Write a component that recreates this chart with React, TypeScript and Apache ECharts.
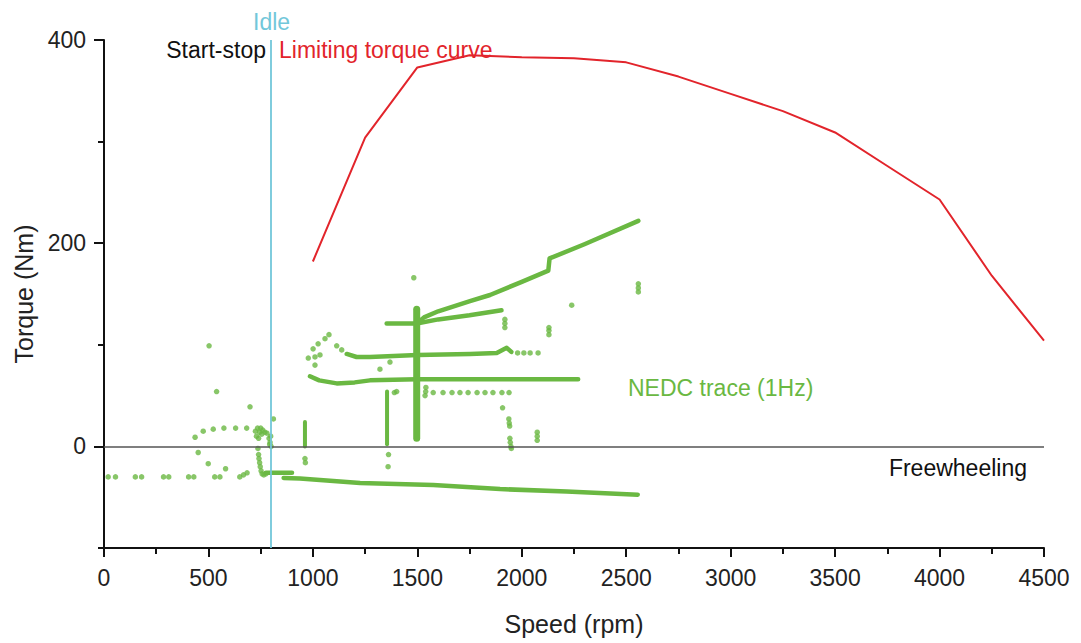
import React, { useEffect, useRef } from "react";
import * as echarts from "echarts";

// Limiting torque curve
const limitSpeed = [1000, 1250, 1500, 1750, 2000, 2250, 2500, 2750, 3000, 3250, 3500, 3750, 4000, 4250, 4500];
const limitTorque = [182, 304, 373, 385, 383, 382, 378, 364, 347, 330, 309, 276, 243, 168, 104];

// Axis tick labels
const yMajorTicks = [0, 200, 400];

// NEDC trace (1Hz) — sparse points
const lowDashDots = [[20, -30], [55, -30], [150, -30], [180, -30], [285, -30], [310, -30], [405, -30], [430, -30], [530, -30], [555, -30], [650, -30], [668, -28], [685, -26]];
const startArcDots = [[436, 9], [475, 15], [523, 17], [574, 18], [630, 18], [683, 18], [451, -6], [499, -17], [582, -22], [503, 99], [539, 54], [699, 39], [811, 27]];
const idleDots = [[725, 15], [730, 10], [735, 18], [740, 8], [745, 14], [750, 18], [755, 12], [760, 16], [770, 14], [780, 13], [790, 8], [795, 4], [800, 0], [798, 10], [793, 2], [737, -2], [740, -8], [742, -12], [745, -16], [748, -20], [752, -24], [757, -27], [765, -28], [775, -27]];
const columnDots = [[962, -12], [964, -16], [1362, -8], [1360, -20], [1401, 54], [1390, 53]];
const loopDots = [[978, 87], [1001, 96], [1025, 101], [1058, 106], [1077, 110], [1114, 99], [1138, 95], [1010, 88], [1034, 90], [1010, 80], [1321, 76], [1369, 83], [1980, 92], [2010, 92], [2040, 92], [2078, 92]];
const dottedShelf = [[1537, 50], [1540, 54], [1541, 58], [1576, 53], [1623, 53], [1666, 53], [1704, 53], [1743, 53], [1786, 53], [1824, 53], [1862, 53], [1905, 53], [1939, 53], [1908, 38], [1938, 27], [1940, 23], [1942, 20], [1943, 8], [1945, 4], [1948, 0], [1950, -2], [2074, 6], [2074, 10], [2074, 14]];
const highDots = [[1919, 117], [1919, 121], [1919, 125], [2130, 110], [2130, 114], [2130, 117], [2239, 139], [2558, 152], [2558, 156], [2558, 160], [1483, 166]];

// NEDC trace (1Hz) — dense streaks of overlapping points
const freewheelStreak = [[860, -31], [938, -31.5], [1226, -36], [1576, -38], [1896, -42], [2215, -44.5], [2555, -47.5]];
const idleShelf = [[775, -26], [900, -26]];
const streak65 = [[986, 69], [1030, 65], [1114, 62], [1200, 63], [1273, 65], [1500, 66], [1750, 66], [2000, 66], [2270, 66]];
const streak90 = [[1162, 91], [1209, 88], [1273, 88], [1500, 90], [1752, 91], [1880, 92], [1928, 97], [1950, 93]];
const streak120Lower = [[1353, 121], [1497, 121], [1600, 125], [1750, 129], [1903, 134]];
const streak120Upper = [[1497, 121], [1532, 127], [1600, 133], [1752, 143], [1848, 149], [2000, 162], [2127, 173], [2133, 185], [2300, 199], [2558, 222]];
const column1500 = [[1497, 135], [1497, 8]];
const column1355 = [[1355, 54], [1355, 2]];
const column962 = [[962, 24], [962, 0]];

const GREEN = "#6ab842";
const RED = "#e2242b";
const CYAN = "#72c7da";
const FONT = "Liberation Sans, Arial, sans-serif";

export default function App() {
  const ref = useRef<HTMLDivElement>(null);
  useEffect(() => {
    if (!ref.current) return;
    const chart = echarts.init(ref.current, null, { renderer: "svg" });
    const streaks: [number[][], number][] = [
      [freewheelStreak, 4.5],
      [idleShelf, 4.5],
      [streak65, 4.5],
      [streak90, 4.5],
      [streak120Lower, 4.5],
      [streak120Upper, 4.5],
      [column1500, 7],
      [column1355, 4],
      [column962, 4],
    ];
    const dotSets = [lowDashDots, startArcDots, idleDots, columnDots, loopDots, dottedShelf, highDots];
    const series: any[] = [];
    series.push({
      type: "line",
      data: [],
      silent: true,
      markLine: {
        silent: true,
        symbol: "none",
        label: { show: false },
        animation: false,
        data: [
          { yAxis: 0, lineStyle: { color: "#555", width: 1.5, type: "solid" } },
          { xAxis: 800, lineStyle: { color: CYAN, width: 1.8, type: "solid" } },
        ],
      },
      z: 1,
    });
    streaks.forEach(([d, w]) =>
      series.push({
        type: "line",
        data: d,
        symbol: "none",
        lineStyle: { color: GREEN, width: w, cap: "round", join: "round" },
        z: 3,
      })
    );
    dotSets.forEach((d) =>
      series.push({
        type: "scatter",
        data: d,
        symbol: "circle",
        symbolSize: 5.5,
        itemStyle: { color: GREEN },
        z: 3,
      })
    );
    series.push({
      type: "line",
      data: limitSpeed.map((s, i) => [s, limitTorque[i]]),
      symbol: "none",
      lineStyle: { color: RED, width: 2 },
      z: 4,
    });

    chart.setOption({
      animation: false,
      backgroundColor: "#fff",
      grid: { left: 104, right: 37, top: 40, bottom: 95 },
      xAxis: {
        type: "value",
        min: 0,
        max: 4500,
        interval: 500,
        name: "Speed (rpm)",
        nameLocation: "middle",
        nameGap: 63,
        nameTextStyle: { fontFamily: FONT, fontSize: 25, color: "#222" },
        axisLine: { show: true, onZero: false, lineStyle: { color: "#111", width: 2 } },
        axisTick: { show: true, inside: false, length: 9, lineStyle: { color: "#111", width: 2 } },
        minorTick: { show: true, splitNumber: 2, length: 6, lineStyle: { color: "#111", width: 2 } },
        axisLabel: { fontFamily: FONT, fontSize: 23, color: "#222", margin: 18, formatter: (v: number) => String(v) },
        splitLine: { show: false },
      },
      yAxis: [
        {
          type: "value",
          min: -100,
          max: 400,
          interval: 100,
          name: "Torque (Nm)",
          nameLocation: "middle",
          nameGap: 62,
          nameTextStyle: { fontFamily: FONT, fontSize: 25, color: "#222" },
          axisLine: { show: true, onZero: false, lineStyle: { color: "#111", width: 2 } },
          axisTick: { show: true, inside: false, length: 6, lineStyle: { color: "#111", width: 2 } },
          axisLabel: {
            fontFamily: FONT,
            fontSize: 23,
            color: "#222",
            margin: 18,
            formatter: (v: number) => (yMajorTicks.includes(v) ? String(v) : ""),
          },
          splitLine: { show: false },
        },
        {
          type: "value",
          min: -100,
          max: 400,
          position: "left",
          axisLine: { show: false },
          axisTick: { show: true, inside: false, length: 10, customValues: yMajorTicks, lineStyle: { color: "#111", width: 2 } },
          axisLabel: { show: false },
          splitLine: { show: false },
        },
      ],
      graphic: [
        { type: "text", left: 253, top: 10, style: { text: "Idle", fill: CYAN, font: `23px ${FONT}` } },
        { type: "text", x: 266, y: 50, style: { text: "Start-stop", fill: "#111", font: `23px ${FONT}`, align: "right", verticalAlign: "middle" } },
        { type: "text", x: 279, y: 50, style: { text: "Limiting torque curve", fill: RED, font: `23px ${FONT}`, align: "left", verticalAlign: "middle" } },
        { type: "text", x: 628, y: 388, style: { text: "NEDC trace (1Hz)", fill: GREEN, font: `23px ${FONT}`, align: "left", verticalAlign: "middle" } },
        { type: "text", x: 1027, y: 468, style: { text: "Freewheeling", fill: "#111", font: `23px ${FONT}`, align: "right", verticalAlign: "middle" } },
      ],
      series,
    });
    return () => chart.dispose();
  }, []);
  return <div ref={ref} style={{ position: "fixed", left: 0, top: 0, width: 1081, height: 643, background: "#fff" }} />;
}
